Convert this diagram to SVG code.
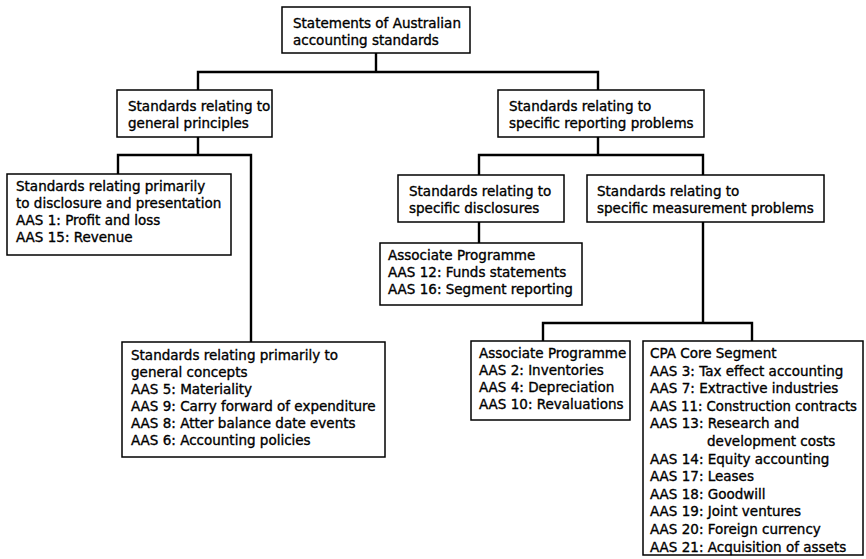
<svg xmlns="http://www.w3.org/2000/svg" width="866" height="559" viewBox="0 0 866 559">
  <style>
    .box { fill: #fff; stroke: #000; stroke-width: 1.5; }
    .lbl { font-family: "DejaVu Sans", "Liberation Sans", sans-serif; font-size: 13.5px; fill: #000; stroke: #000; stroke-width: 0.35; }
    .conn { fill: none; stroke: #000; stroke-width: 2.4; stroke-linejoin: miter; stroke-linecap: square; }
  </style>
  <rect width="866" height="559" fill="#fff"/>

  <g id="connectors">
    <path class="conn" d="M376 53 V72 M198 90 V72 H598 V90"/>
    <path class="conn" d="M198 137 V155 M118 174 V155 H251 V342"/>
    <path class="conn" d="M598 137 V155 M479 175 V155 H703 V175"/>
    <path class="conn" d="M479 222 V243"/>
    <path class="conn" d="M703 222 V323 M543 341 V323 H752 V341"/>
  </g>

  <g id="root">
    <rect class="box" x="282" y="7" width="188" height="46"/>
    <text class="lbl" x="293" y="28">Statements of Australian</text>
    <text class="lbl" x="293" y="45">accounting standards</text>
  </g>

  <g id="general-principles">
    <rect class="box" x="117" y="90" width="155" height="47"/>
    <text class="lbl" x="128" y="111">Standards relating to</text>
    <text class="lbl" x="128" y="128">general principles</text>
  </g>

  <g id="specific-reporting">
    <rect class="box" x="498" y="90" width="206" height="47"/>
    <text class="lbl" x="509" y="111">Standards relating to</text>
    <text class="lbl" x="509" y="128">specific reporting problems</text>
  </g>

  <g id="disclosure-presentation">
    <rect class="box" x="7" y="174" width="224" height="81"/>
    <text class="lbl" x="16" y="191">Standards relating primarily</text>
    <text class="lbl" x="16" y="208">to disclosure and presentation</text>
    <text class="lbl" x="16" y="225">AAS 1: Profit and loss</text>
    <text class="lbl" x="16" y="242">AAS 15: Revenue</text>
  </g>

  <g id="general-concepts">
    <rect class="box" x="122" y="342" width="263" height="115"/>
    <text class="lbl" x="131" y="360">Standards relating primarily to</text>
    <text class="lbl" x="131" y="377">general concepts</text>
    <text class="lbl" x="131" y="394">AAS 5: Materiality</text>
    <text class="lbl" x="131" y="411">AAS 9: Carry forward of expenditure</text>
    <text class="lbl" x="131" y="428">AAS 8: Atter balance date events</text>
    <text class="lbl" x="131" y="445">AAS 6: Accounting policies</text>
  </g>

  <g id="specific-disclosures">
    <rect class="box" x="398" y="175" width="166" height="47"/>
    <text class="lbl" x="409" y="196">Standards relating to</text>
    <text class="lbl" x="409" y="213">specific disclosures</text>
  </g>

  <g id="measurement-problems">
    <rect class="box" x="587" y="175" width="237" height="47"/>
    <text class="lbl" x="597" y="196">Standards relating to</text>
    <text class="lbl" x="597" y="213">specific measurement problems</text>
  </g>

  <g id="disclosures-associate">
    <rect class="box" x="380" y="243" width="202" height="62"/>
    <text class="lbl" x="388" y="260">Associate Programme</text>
    <text class="lbl" x="388" y="277">AAS 12: Funds statements</text>
    <text class="lbl" x="388" y="294">AAS 16: Segment reporting</text>
  </g>

  <g id="measurement-associate">
    <rect class="box" x="471" y="341" width="159" height="79"/>
    <text class="lbl" x="479" y="358">Associate Programme</text>
    <text class="lbl" x="479" y="375">AAS 2: Inventories</text>
    <text class="lbl" x="479" y="392">AAS 4: Depreciation</text>
    <text class="lbl" x="479" y="409">AAS 10: Revaluations</text>
  </g>

  <g id="cpa-core">
    <rect class="box" x="643" y="341" width="220" height="214"/>
    <text class="lbl" x="650" y="358">CPA Core Segment</text>
    <text class="lbl" x="650" y="375.6">AAS 3: Tax effect accounting</text>
    <text class="lbl" x="650" y="393.2">AAS 7: Extractive industries</text>
    <text class="lbl" x="650" y="410.8" textLength="207" lengthAdjust="spacingAndGlyphs">AAS 11: Construction contracts</text>
    <text class="lbl" x="650" y="428.4">AAS 13: Research and</text>
    <text class="lbl" x="707" y="446">development costs</text>
    <text class="lbl" x="650" y="463.6">AAS 14: Equity accounting</text>
    <text class="lbl" x="650" y="481.2">AAS 17: Leases</text>
    <text class="lbl" x="650" y="498.8">AAS 18: Goodwill</text>
    <text class="lbl" x="650" y="516.4">AAS 19: Joint ventures</text>
    <text class="lbl" x="650" y="534">AAS 20: Foreign currency</text>
    <text class="lbl" x="650" y="551.6">AAS 21: Acquisition of assets</text>
  </g>
</svg>
